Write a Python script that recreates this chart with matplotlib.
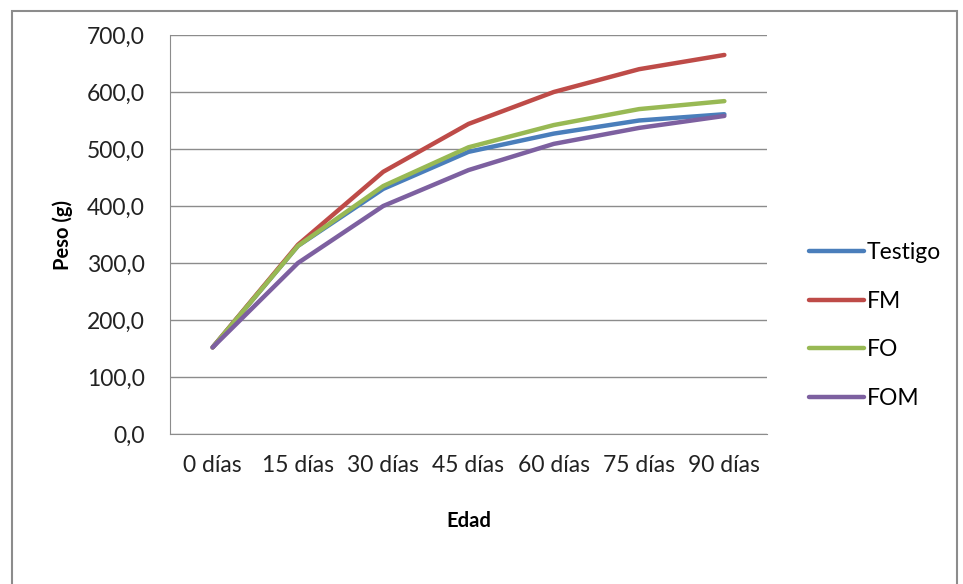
import matplotlib.pyplot as plt
from matplotlib.patches import Rectangle

plt.rcParams['font.family'] = ['Lato', 'DejaVu Sans']

# data
#---------------------------------------------------------------------------
edad = ['0 días', '15 días', '30 días', '45 días', '60 días', '75 días', '90 días']
testigo = [152, 330, 430, 495, 527, 550, 561]
fm = [152, 332, 460, 544, 600, 640, 665]
fo = [152, 330, 435, 503, 542, 570, 584]
fom = [152, 300, 400, 463, 509, 537, 558]

series = [('Testigo', testigo, '#4a7ebb'),
          ('FM', fm, '#be4b48'),
          ('FO', fo, '#98b954'),
          ('FOM', fom, '#7d60a0')]

yticks = list(range(0, 701, 100))


#plot
#---------------------------------------------------------------------------
fig = plt.figure(figsize=(9.63, 5.84), dpi=100)
ax = fig.add_axes([170/963, 1-434/584, 597/963, 399/584])

x = list(range(len(edad)))
for name, vals, col in series:
    ax.plot(x, vals, color=col, lw=3.2, label=name, solid_capstyle='round')

ax.set_xlim(-0.5, len(edad) - 0.5)
ax.set_ylim(0, 700)
ax.set_yticks(yticks)
ax.set_yticklabels(['%d,0' % v for v in yticks], fontsize=16.5)
ax.set_xticks(x)
ax.set_xticklabels(edad, fontsize=16.5)
ax.tick_params(length=0, colors='#222222')
ax.tick_params(axis='x', pad=15)
ax.tick_params(axis='y', pad=18)
ax.grid(axis='y', color='#8c8c8c', lw=1)
ax.set_axisbelow(True)
for s in ['top', 'right']:
    ax.spines[s].set_visible(False)
for s in ['left', 'bottom']:
    ax.spines[s].set_color('#8c8c8c')

ax.set_ylabel('Peso (g)', fontsize=14.5, fontweight='bold', labelpad=10)
ax.set_xlabel('Edad', fontsize=14.5, fontweight='bold', labelpad=25)

leg = ax.legend(loc='center left', bbox_to_anchor=(1.035, 0.272), frameon=False,
                fontsize=16.5, handlelength=2.4, handletextpad=0.15,
                labelspacing=1.2)

# chart border
fig.patches.append(Rectangle((12/963, -0.05), 945/963, 1.05 - 11/584,
                             transform=fig.transFigure, fill=False,
                             ec='#8c8c8c', lw=1.5))

plt.savefig('out.png', dpi=100)
